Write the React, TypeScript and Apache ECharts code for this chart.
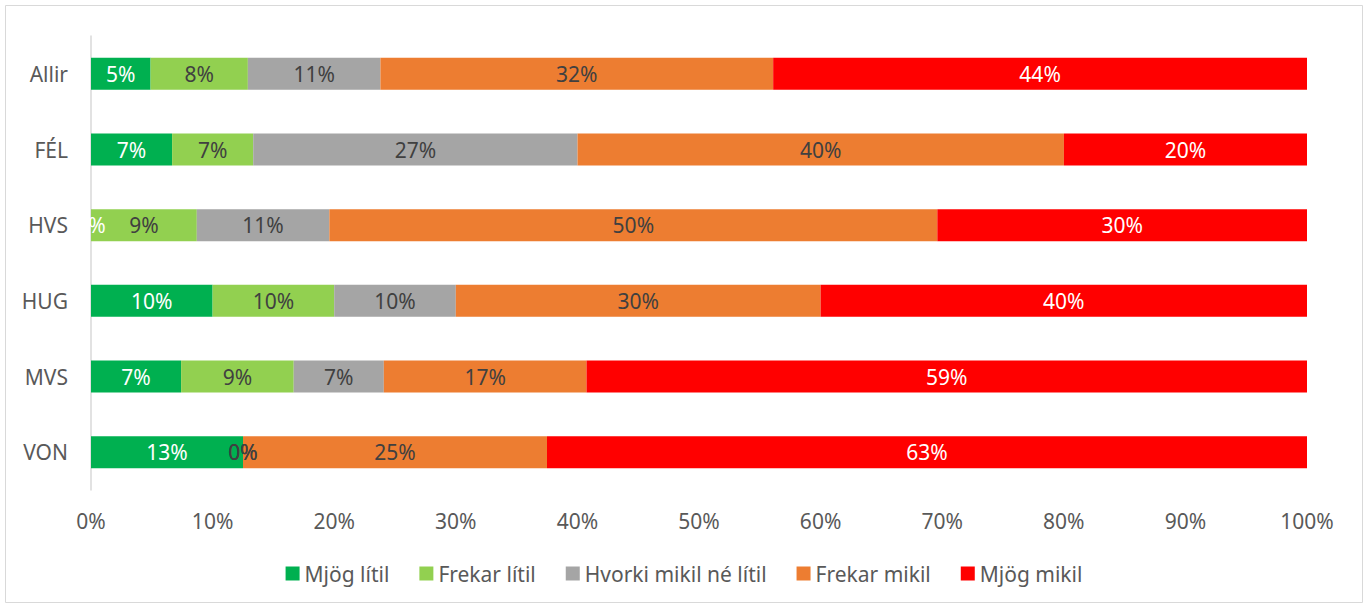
import React, { useEffect, useRef } from "react";
import * as echarts from "echarts";

const categories = ["Allir", "FÉL", "HVS", "HUG", "MVS", "VON"];
const seriesNames = ["Mjög lítil", "Frekar lítil", "Hvorki mikil né lítil", "Frekar mikil", "Mjög mikil"];
const mjogLitil = [4.9, 6.67, 0, 10, 7.41, 12.5];
const frekarLitil = [8.0, 6.67, 8.7, 10, 9.26, 0];
const hvorki = [10.9, 26.67, 10.9, 10, 7.41, 0];
const frekarMikil = [32.3, 40, 50.0, 30, 16.67, 25];
const mjogMikil = [43.9, 20, 30.4, 40, 59.26, 62.5];
const colors = ["#00B050", "#92D050", "#A5A5A5", "#ED7D31", "#FF0000"];
const labelColors = ["#FFFFFF", "#404040", "#404040", "#404040", "#FFFFFF"];
const xTicks = [0, 10, 20, 30, 40, 50, 60, 70, 80, 90, 100];

const FONT = "'Noto Sans', 'Open Sans', sans-serif";
const FS = 21;

export default function App() {
  const ref = useRef<HTMLDivElement>(null);
  useEffect(() => {
    if (!ref.current) return;
    const chart = echarts.init(ref.current, undefined, { renderer: "svg" });
    const all = [mjogLitil, frekarLitil, hvorki, frekarMikil, mjogMikil];
    chart.setOption({
      animation: false,
      graphic: [
        {
          type: "rect",
          shape: { x: 5.5, y: 5.5, width: 1357, height: 597 },
          style: { fill: "none", stroke: "#D9D9D9", lineWidth: 1 },
          silent: true,
        },
      ],
      grid: { left: 91, right: 61, top: 36, bottom: 118, containLabel: false },
      legend: {
        bottom: 19,
        left: "center",
        itemWidth: 14,
        itemHeight: 14,
        itemGap: 30,
        icon: "rect",
        textStyle: { color: "#595959", fontSize: FS, fontFamily: FONT },
        data: seriesNames,
      },
      xAxis: {
        type: "value",
        min: 0,
        max: 100,
        interval: 10,
        axisLine: { show: false },
        axisTick: { show: false },
        splitLine: { show: false },
        axisLabel: {
          color: "#595959",
          fontSize: FS,
          fontFamily: FONT,
          margin: 20,
          formatter: (v: number) => (xTicks.includes(v) ? v + "%" : ""),
        },
      },
      yAxis: {
        type: "category",
        data: categories,
        inverse: true,
        axisLine: { show: true, lineStyle: { color: "#D9D9D9", width: 1.5 } },
        axisTick: { show: false },
        axisLabel: { color: "#595959", fontSize: FS, fontFamily: FONT, margin: 23 },
      },
      series: all.map((d, i) => ({
        name: seriesNames[i],
        type: "bar",
        stack: "total",
        barWidth: 32,
        data: d,
        itemStyle: { color: colors[i] },
        label: {
          show: true,
          position: "inside",
          color: labelColors[i],
          fontSize: FS,
          fontFamily: FONT,
          formatter: (p: any) => Math.round(p.value) + "%",
        },
      })),
    });
    return () => chart.dispose();
  }, []);
  return (
    <div style={{ position: "absolute", left: 0, top: 0, width: 1368, height: 608, background: "#fff" }}>
      <div ref={ref} style={{ width: 1368, height: 608 }} />
    </div>
  );
}
